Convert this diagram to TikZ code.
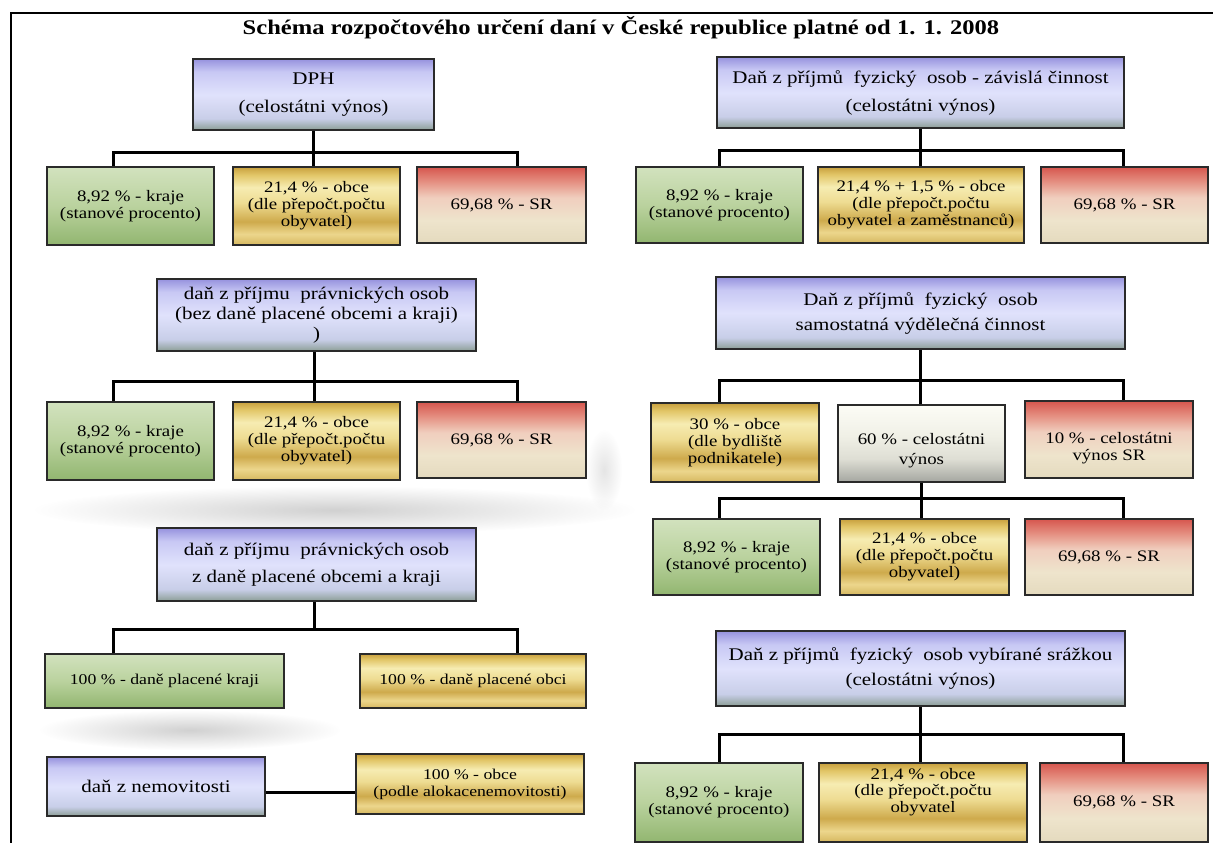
\documentclass[tikz,border=0pt]{standalone}
\usepackage{fontspec}
\setmainfont[FakeStretch=1.18]{Liberation Serif}
\usetikzlibrary{fadings}
\tikzfading[name=softblob, inner color=transparent!0, outer color=transparent!100]
\definecolor{boxborder}{HTML}{2A2A2A}
\pgfdeclareverticalshading{blueshade}{100bp}{color(0bp)=({rgb,255:red,140;green,158;blue,150}); color(25bp)=({rgb,255:red,140;green,158;blue,150}); color(33bp)=({rgb,255:red,200;green,206;blue,232}); color(50bp)=({rgb,255:red,224;green,226;blue,252}); color(66bp)=({rgb,255:red,200;green,200;blue,244}); color(75bp)=({rgb,255:red,150;green,146;blue,222}); color(100bp)=({rgb,255:red,150;green,146;blue,222})}
\pgfdeclareverticalshading{greenshade}{100bp}{color(0bp)=({rgb,255:red,146;green,182;blue,112}); color(25bp)=({rgb,255:red,146;green,182;blue,112}); color(50bp)=({rgb,255:red,186;green,210;blue,158}); color(75bp)=({rgb,255:red,210;green,226;blue,190}); color(100bp)=({rgb,255:red,210;green,226;blue,190})}
\pgfdeclareverticalshading{goldshade}{100bp}{color(0bp)=({rgb,255:red,214;green,184;blue,96}); color(25bp)=({rgb,255:red,214;green,184;blue,96}); color(32bp)=({rgb,255:red,236;green,214;blue,140}); color(40bp)=({rgb,255:red,206;green,170;blue,76}); color(52bp)=({rgb,255:red,238;green,220;blue,146}); color(62bp)=({rgb,255:red,246;green,236;blue,178}); color(70bp)=({rgb,255:red,226;green,198;blue,104}); color(75bp)=({rgb,255:red,200;green,160;blue,62}); color(100bp)=({rgb,255:red,200;green,160;blue,62})}
\pgfdeclareverticalshading{redshade}{100bp}{color(0bp)=({rgb,255:red,228;green,218;blue,190}); color(25bp)=({rgb,255:red,228;green,218;blue,190}); color(40bp)=({rgb,255:red,238;green,228;blue,204}); color(55bp)=({rgb,255:red,240;green,206;blue,190}); color(66bp)=({rgb,255:red,228;green,140;blue,126}); color(75bp)=({rgb,255:red,214;green,86;blue,78}); color(100bp)=({rgb,255:red,214;green,86;blue,78})}
\pgfdeclareverticalshading{whiteshade}{100bp}{color(0bp)=({rgb,255:red,164;green,166;blue,160}); color(25bp)=({rgb,255:red,164;green,166;blue,160}); color(40bp)=({rgb,255:red,222;green,222;blue,212}); color(55bp)=({rgb,255:red,240;green,240;blue,230}); color(75bp)=({rgb,255:red,252;green,252;blue,246}); color(100bp)=({rgb,255:red,252;green,252;blue,246})}
\tikzset{
  basebox/.style={draw=boxborder, line width=1.7pt, inner sep=0pt, align=center, anchor=center},
  pbox/.style={basebox, line width=1.9pt, shading=blueshade, font=\fontsize{17.8}{28}\selectfont},
  gbox/.style={basebox, shading=greenshade, font=\fontsize{16}{17}\selectfont},
  obox/.style={basebox, shading=goldshade, font=\fontsize{16}{17}\selectfont},
  rbox/.style={basebox, shading=redshade, font=\fontsize{16}{17}\selectfont},
  wbox/.style={basebox, shading=whiteshade, font=\fontsize{16}{17}\selectfont},
  smalltext/.style={font=\fontsize{15}{17}\selectfont},
  conn/.style={line width=3pt, black},
  softshadow/.style={fill=black!18, path fading=softblob}
}
\begin{document}
\begin{tikzpicture}[x=1pt,y=-1pt]
\useasboundingbox (0,0) rectangle (1213,843);
\fill[white] (0,0) rectangle (1213,843);
% soft shadows
\fill[softshadow] (335,510) ellipse (300 and 24);
\fill[softshadow] (190,730) ellipse (150 and 20);
\fill[softshadow, fill=black!10] (604,470) ellipse (18 and 40);
% frame
\draw[line width=2.6pt] (1213,13) -- (11,13) -- (11,843);
% title
\node[font=\bfseries\fontsize{20.8}{24}\selectfont] (title) at (621,28) {Schéma rozpočtového určení daní v České republice platné od 1. 1. 2008};

% ---------- left column ----------
\node[pbox, minimum width=241, minimum height=71] (P1) at (313.5,94.5) {DPH\\(celostátni výnos)};
\node[gbox, minimum width=167, minimum height=78] (c1g) at (130.5,206) {8,92 \% - kraje\\(stanové procento)};
\node[obox, minimum width=167, minimum height=78] (c1o) at (316.5,206) {21,4 \% - obce\\(dle přepočt.počtu\\obyvatel)};
\node[rbox, minimum width=169, minimum height=76] (c1r) at (501.5,205) {69,68 \% - SR};
\draw[conn] (P1.south) -- ++(0,22) coordinate (b1);
\draw[conn] ([xshift=-17.5pt]c1g.north) |- (b1) -| ([xshift=15.5pt]c1r.north);
\draw[conn] (b1) -- (b1 |- c1o.north);

\node[pbox, minimum width=319, minimum height=72, font=\fontsize{17.8}{20}\selectfont] (P2) at (316.5,315) {daň z příjmu\ \ právnických osob\\(bez daně placené obcemi a kraji)\\)};
\node[gbox, minimum width=167, minimum height=78] (c2g) at (130.5,441) {8,92 \% - kraje\\(stanové procento)};
\node[obox, minimum width=167, minimum height=78] (c2o) at (316.5,441) {21,4 \% - obce\\(dle přepočt.počtu\\obyvatel)};
\node[rbox, minimum width=169, minimum height=76] (c2r) at (501.5,440) {69,68 \% - SR};
\draw[conn] ([xshift=-2.5pt]P2.south) -- ++(0,30) coordinate (b2);
\draw[conn] ([xshift=-17.5pt]c2g.north) |- (b2) -| ([xshift=15.5pt]c2r.north);
\draw[conn] (b2) -- (b2 |- c2o.north);

\node[pbox, minimum width=319, minimum height=73, font=\fontsize{17.8}{27}\selectfont] (P3) at (316.5,564.5) {daň z příjmu\ \ právnických osob\\z daně placené obcemi a kraji};
\node[gbox, smalltext, minimum width=239, minimum height=54] (c3g) at (164.5,681) {100 \% - daně placené kraji};
\node[obox, smalltext, minimum width=226, minimum height=54] (c3o) at (473,681) {100 \% - daně placené obci};
\draw[conn] ([xshift=-2.5pt]P3.south) -- ++(0,28) coordinate (b3);
\draw[conn] ([xshift=-51.5pt]c3g.north) |- (b3) -| ([xshift=44pt]c3o.north);

\node[pbox, minimum width=218, minimum height=59] (P4) at (156,786.5) {daň z nemovitosti};
\node[obox, smalltext, minimum width=228, minimum height=60] (c4o) at (470,784) {100 \% - obce\\(podle alokacenemovitosti)};
\draw[conn] ([yshift=-5.5pt]P4.east) -- ([yshift=-5.5pt]P4.east -| c4o.west);

% ---------- right column ----------
\node[pbox, minimum width=407, minimum height=71] (Q1) at (920.5,92.5) {Daň z příjmů\ \ fyzický\ \ osob - závislá činnost\\(celostátni výnos)};
\node[gbox, minimum width=167, minimum height=76] (d1g) at (719.5,205) {8,92 \% - kraje\\(stanové procento)};
\node[obox, minimum width=206, minimum height=76] (d1o) at (921,205) {21,4 \% + 1,5 \% - obce\\(dle přepočt.počtu\\obyvatel a zaměstnanců)};
\node[rbox, minimum width=167, minimum height=76] (d1r) at (1124.5,205) {69,68 \% - SR};
\draw[conn] (Q1.south) -- ++(0,22) coordinate (e1);
\draw[conn] (d1g.north) |- (e1) -| ([xshift=-1.5pt]d1r.north);
\draw[conn] (e1) -- (e1 |- d1o.north);

\node[pbox, minimum width=409, minimum height=72, font=\fontsize{17.8}{25}\selectfont] (Q2) at (920.5,313) {Daň z příjmů\ \ fyzický\ \ osob\\samostatná výdělečná činnost};
\node[obox, minimum width=168, minimum height=79] (d2o) at (735,442.5) {30 \% - obce\\(dle bydliště\\podnikatele)};
\node[wbox, minimum width=167, minimum height=77] (d2w) at (921.5,443.5) {\raisebox{-12pt}[0pt][0pt]{\begin{tabular}{@{}c@{}}60 \% - celostátni\\[3pt]výnos\end{tabular}}};
\node[rbox, minimum width=168, minimum height=77] (d2r) at (1109,439.5) {\raisebox{-13.5pt}[0pt][0pt]{\begin{tabular}{@{}c@{}}10 \% - celostátni\\výnos SR\end{tabular}}};
\draw[conn] (Q2.south) -- ++(0,31) coordinate (e2);
\draw[conn] ([xshift=-16pt]d2o.north) |- (e2) -| ([xshift=14pt]d2r.north);
\draw[conn] (e2) -- (e2 |- d2w.north);

\node[gbox, minimum width=167, minimum height=76] (d3g) at (736.5,557) {8,92 \% - kraje\\(stanové procento)};
\node[obox, minimum width=169, minimum height=76] (d3o) at (924.5,557) {21,4 \% - obce\\(dle přepočt.počtu\\obyvatel)};
\node[rbox, minimum width=168, minimum height=76] (d3r) at (1109,557) {69,68 \% - SR};
\draw[conn] (d2w.south) -- ++(0,16) coordinate (e3);
\draw[conn] ([xshift=-17.5pt]d3g.north) |- (e3) -| ([xshift=14pt]d3r.north);
\draw[conn] (e3) -- (e3 |- d3o.north);

\node[pbox, minimum width=409, minimum height=75, font=\fontsize{17.8}{25}\selectfont] (Q3) at (920.5,668.5) {Daň z příjmů\ \ fyzický\ \ osob vybírané srážkou\\(celostátni výnos)};
\node[gbox, minimum width=168, minimum height=79] (d4g) at (719,802.5) {8,92 \% - kraje\\(stanové procento)};
\node[obox, minimum width=208, minimum height=79, font=\fontsize{16}{16.5}\selectfont] (d4o) at (923,802.5) {\raisebox{5.5pt}[0pt][0pt]{\begin{tabular}{@{}c@{}}21,4 \% - obce\\(dle přepočt.počtu\\obyvatel\end{tabular}}};
\node[rbox, minimum width=168, minimum height=79] (d4r) at (1124,802.5) {69,68 \% - SR};
\draw[conn] (Q3.south) -- ++(0,28) coordinate (e4);
\draw[conn] (d4g.north) |- (e4) -| ([xshift=-1pt]d4r.north);
\draw[conn] (e4) -- (e4 |- d4o.north);
\end{tikzpicture}
\end{document}
